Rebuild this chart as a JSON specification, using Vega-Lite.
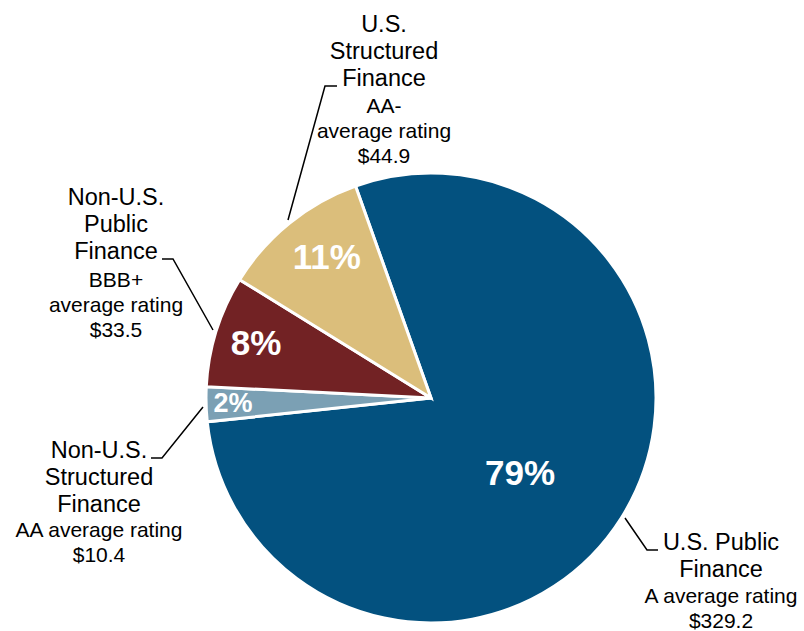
{
  "$schema": "https://vega.github.io/schema/vega-lite/v6.json",
  "width": 804,
  "height": 631,
  "autosize": {"type": "none"},
  "padding": 0,
  "background": "white",
  "config": {"view": {"stroke": null}, "text": {"font": "Liberation Sans"}},
  "datasets": {
    "slices": [
      {"segment": "U.S. Public Finance", "value": 329.2, "pct": "79%", "ord": 1},
      {"segment": "Non-U.S. Structured Finance", "value": 10.4, "pct": "2%", "ord": 2},
      {"segment": "Non-U.S. Public Finance", "value": 33.5, "pct": "8%", "ord": 3},
      {"segment": "U.S. Structured Finance", "value": 44.9, "pct": "11%", "ord": 4}
    ],
    "leaders": [
      {"segment": "U.S. Structured Finance", "step": 1, "x": -143, "y": 178},
      {"segment": "U.S. Structured Finance", "step": 2, "x": -106, "y": 312},
      {"segment": "U.S. Structured Finance", "step": 3, "x": -94, "y": 312},
      {"segment": "Non-U.S. Public Finance", "step": 1, "x": -218, "y": 68},
      {"segment": "Non-U.S. Public Finance", "step": 2, "x": -258, "y": 139},
      {"segment": "Non-U.S. Public Finance", "step": 3, "x": -269, "y": 139},
      {"segment": "Non-U.S. Structured Finance", "step": 1, "x": -228, "y": -9},
      {"segment": "Non-U.S. Structured Finance", "step": 2, "x": -269, "y": -60},
      {"segment": "Non-U.S. Structured Finance", "step": 3, "x": -280, "y": -60},
      {"segment": "U.S. Public Finance", "step": 1, "x": 194, "y": -120},
      {"segment": "U.S. Public Finance", "step": 2, "x": 216, "y": -152},
      {"segment": "U.S. Public Finance", "step": 3, "x": 227, "y": -152}
    ],
    "labels": [
      {"segment": "U.S. Structured Finance", "name": "U.S.\nStructured\nFinance", "rating": "AA-\naverage rating\n$44.9", "x": -47, "nameY": 366, "ratingY": 285},
      {"segment": "Non-U.S. Public Finance", "name": "Non-U.S.\nPublic\nFinance", "rating": "BBB+\naverage rating\n$33.5", "x": -315, "nameY": 193, "ratingY": 111},
      {"segment": "Non-U.S. Structured Finance", "name": "Non-U.S.\nStructured\nFinance", "rating": "AA average rating\n$10.4", "x": -332, "nameY": -60, "ratingY": -139},
      {"segment": "U.S. Public Finance", "name": "U.S. Public\nFinance", "rating": "A average rating\n$329.2", "x": 290, "nameY": -152, "ratingY": -205}
    ]
  },
  "layer": [
    {
      "data": {"name": "slices"},
      "mark": {"type": "arc", "outerRadius": 225, "stroke": "white", "strokeWidth": 3},
      "encoding": {
        "x": {"datum": 0, "type": "quantitative", "scale": {"domain": [-431, 373], "nice": false, "zero": false}, "axis": null},
        "y": {"datum": 0, "type": "quantitative", "scale": {"domain": [-233, 398], "nice": false, "zero": false}, "axis": null},
        "theta": {"field": "value", "type": "quantitative", "stack": true, "scale": {"range": [-0.3421, 5.9411]}},
        "order": {"field": "ord", "type": "quantitative"},
        "color": {
          "field": "segment", "type": "nominal", "legend": null,
          "scale": {
            "domain": ["U.S. Public Finance", "Non-U.S. Structured Finance", "Non-U.S. Public Finance", "U.S. Structured Finance"],
            "range": ["#03517F", "#7BA0B4", "#722224", "#DBBE7B"]
          }
        }
      }
    },
    {
      "data": {"name": "slices"},
      "mark": {"type": "text", "radius": 117, "dx": -10, "dy": 14, "fontSize": 35, "fontWeight": "bold", "fill": "white", "baseline": "middle", "align": "center"},
      "encoding": {
        "x": {"datum": 0, "type": "quantitative"},
        "y": {"datum": 0, "type": "quantitative"},
        "theta": {"field": "value", "type": "quantitative", "stack": true},
        "order": {"field": "ord", "type": "quantitative"},
        "text": {"condition": {"test": "datum.segment === 'U.S. Public Finance'", "field": "pct"}, "value": ""}
      }
    },
    {
      "data": {"name": "slices"},
      "mark": {"type": "text", "radius": 180, "dx": 9, "fontSize": 35, "fontWeight": "bold", "fill": "white", "baseline": "middle", "align": "center"},
      "encoding": {
        "x": {"datum": 0, "type": "quantitative"},
        "y": {"datum": 0, "type": "quantitative"},
        "theta": {"field": "value", "type": "quantitative", "stack": true},
        "order": {"field": "ord", "type": "quantitative"},
        "text": {"condition": {"test": "datum.segment === 'U.S. Structured Finance'", "field": "pct"}, "value": ""}
      }
    },
    {
      "data": {"name": "slices"},
      "mark": {"type": "text", "radius": 180, "dx": -3, "fontSize": 35, "fontWeight": "bold", "fill": "white", "baseline": "middle", "align": "center"},
      "encoding": {
        "x": {"datum": 0, "type": "quantitative"},
        "y": {"datum": 0, "type": "quantitative"},
        "theta": {"field": "value", "type": "quantitative", "stack": true},
        "order": {"field": "ord", "type": "quantitative"},
        "text": {"condition": {"test": "datum.segment === 'Non-U.S. Public Finance'", "field": "pct"}, "value": ""}
      }
    },
    {
      "data": {"name": "slices"},
      "mark": {"type": "text", "radius": 198, "fontSize": 27, "fontWeight": "bold", "fill": "white", "baseline": "middle", "align": "center"},
      "encoding": {
        "x": {"datum": 0, "type": "quantitative"},
        "y": {"datum": 0, "type": "quantitative"},
        "theta": {"field": "value", "type": "quantitative", "stack": true},
        "order": {"field": "ord", "type": "quantitative"},
        "text": {"condition": {"test": "datum.segment === 'Non-U.S. Structured Finance'", "field": "pct"}, "value": ""}
      }
    },
    {
      "data": {"name": "leaders"},
      "mark": {"type": "line", "stroke": "black", "strokeWidth": 1.5},
      "encoding": {
        "x": {"field": "x", "type": "quantitative"},
        "y": {"field": "y", "type": "quantitative"},
        "detail": {"field": "segment", "type": "nominal"},
        "order": {"field": "step", "type": "quantitative"}
      }
    },
    {
      "data": {"name": "labels"},
      "mark": {"type": "text", "fontSize": 23.5, "lineHeight": 27, "lineBreak": "\n", "align": "center", "baseline": "alphabetic", "fill": "black"},
      "encoding": {
        "x": {"field": "x", "type": "quantitative"},
        "y": {"field": "nameY", "type": "quantitative"},
        "text": {"field": "name", "type": "nominal"}
      }
    },
    {
      "data": {"name": "labels"},
      "mark": {"type": "text", "fontSize": 21, "lineHeight": 25, "lineBreak": "\n", "align": "center", "baseline": "alphabetic", "fill": "black"},
      "encoding": {
        "x": {"field": "x", "type": "quantitative"},
        "y": {"field": "ratingY", "type": "quantitative"},
        "text": {"field": "rating", "type": "nominal"}
      }
    }
  ]
}
